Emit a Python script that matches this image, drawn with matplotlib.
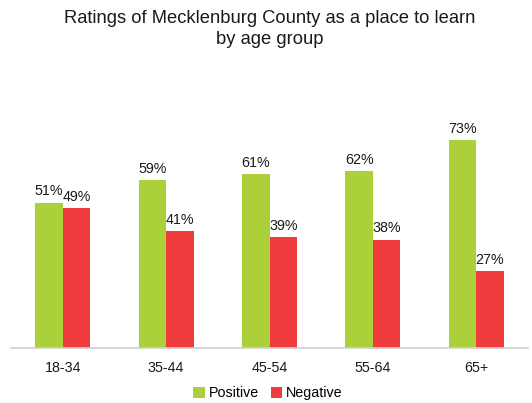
import matplotlib
matplotlib.use('Agg')
import matplotlib.pyplot as plt
import numpy as np

plt.rcParams['font.family'] = ['Liberation Sans', 'DejaVu Sans']

groups = ['18-34', '35-44', '45-54', '55-64', '65+']
positive = [51, 59, 61, 62, 73]
negative = [49, 41, 39, 38, 27]
series_names = ['Positive', 'Negative']

GREEN = '#ACD03A'
RED = '#EE3B3B'

W, H = 532, 403
fig = plt.figure(figsize=(W / 100, H / 100), dpi=100)
# axes in pixel coords: x 11..528, baseline y=348, top y=120 (80%)
ax = fig.add_axes([11 / W, (H - 348) / H, 517 / W, 228 / H])

x = np.arange(len(groups))
bw = 0.266
b1 = ax.bar(x - bw / 2, positive, bw, color=GREEN, label=series_names[0])
b2 = ax.bar(x + bw / 2, negative, bw, color=RED, label=series_names[1])

for bars, vals in ((b1, positive), (b2, negative)):
    for r, v in zip(bars, vals):
        ax.text(r.get_x() + r.get_width() / 2, v + 1.5, f"{v}%",
                ha='center', va='bottom', fontsize=10.3, color='#1a1a1a')

ax.set_xlim(-0.5, len(groups) - 0.5)
ax.set_ylim(0, 80)
ax.set_yticks([])
ax.set_xticks(x)
ax.set_xticklabels(groups, fontsize=10.3, color='#1a1a1a')
ax.tick_params(axis='x', length=0, pad=9)
for s in ('top', 'right', 'left'):
    ax.spines[s].set_visible(False)
ax.spines['bottom'].set_color('#d0d0d0')
ax.spines['bottom'].set_linewidth(1.2)

fig.text(270 / W, 1 - 29 / H, "Ratings of Mecklenburg County as a place to learn\nby age group",
         ha='center', va='center', fontsize=13.2, linespacing=1.3, color='#1a1a1a')

fig.legend(handles=[b1, b2], loc='center', bbox_to_anchor=(268 / W, 1 - 393 / H),
           ncol=2, frameon=False, fontsize=10.3, handlelength=0.8, handleheight=0.8,
           handletextpad=0.3, columnspacing=0.8)

fig.savefig('out.png', dpi=100)
